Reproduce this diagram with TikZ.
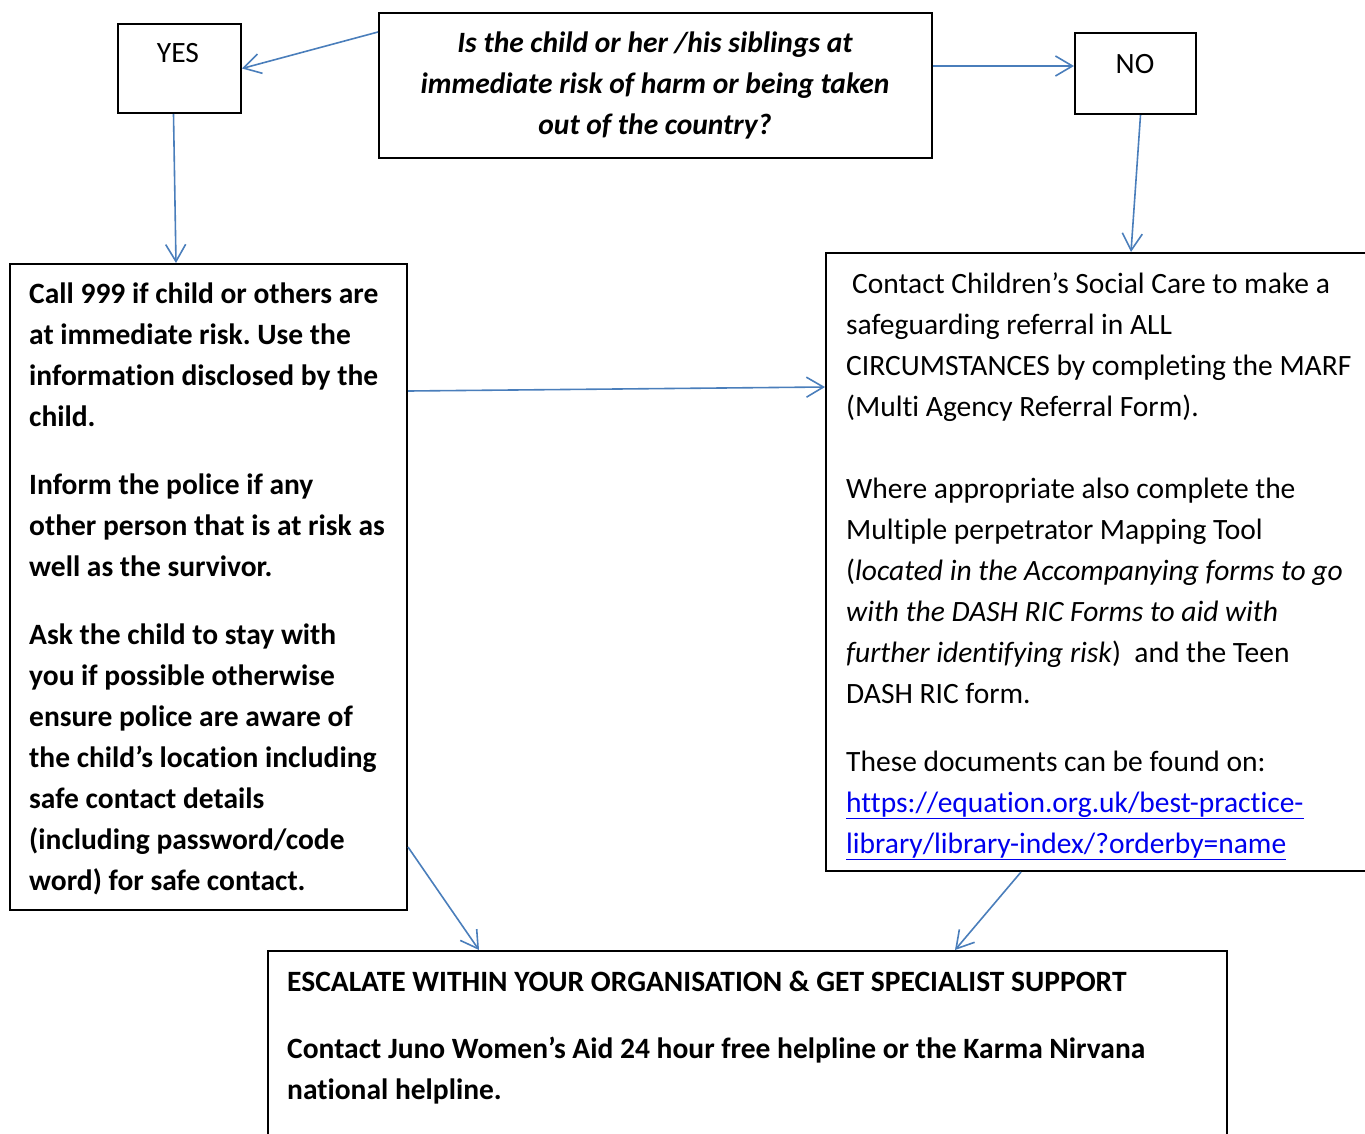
\documentclass[tikz,border=0pt]{standalone}
\usepackage{fontspec}
\setmainfont[Ligatures=NoCommon]{Carlito}
\usetikzlibrary{arrows.meta,calc}
\definecolor{arrowblue}{HTML}{4A7EBB}
\definecolor{linkblue}{HTML}{0000EE}
\frenchspacing
\begin{document}
\begin{tikzpicture}[x=1pt,y=-1pt,
  box/.style={draw=black, line width=2pt, inner sep=0pt, anchor=north west},
  txt/.style={inner sep=0pt, anchor=north west, align=left, font=\fontsize{29.5}{41}\selectfont},
  conn/.style={draw=arrowblue, line width=1.6pt, -{Straight Barb[length=17pt,width=20pt,line width=1.6pt]}}]
\useasboundingbox (0,0) rectangle (1365,1133);
\clip (0,0) rectangle (1365,1133);
% boxes
\node[box, minimum width=123pt, minimum height=89pt] (yes) at (117,23) {};
\node[box, minimum width=553pt, minimum height=145pt] (q) at (378,12) {};
\node[box, minimum width=121pt, minimum height=81pt] (no) at (1074,32) {};
\node[box, minimum width=397pt, minimum height=646pt] (left) at (9,263) {};
\node[box, minimum width=560pt, minimum height=618pt] (right) at (825,252) {};
\node[box, minimum width=959pt, minimum height=300pt] (bot) at (267,950) {};
% texts
\node[txt, anchor=base] (yest) at (178,62) {YES};
\node[txt, anchor=base] (not) at (1135,73) {NO};
\node[txt, anchor=north, align=center, font=\fontsize{29.5}{41}\selectfont\bfseries\itshape] (qt) at (655,23.3)
  {\strut Is the child or her /his siblings at\\ immediate risk of harm or being taken\\ out of the country?};
\node[txt, font=\fontsize{29.5}{41}\selectfont\bfseries] (leftt) at (29,274.3)
  {\strut Call 999 if child or others are\\ at immediate risk. Use the\\ information disclosed by the\\ child.\\[27pt]
   Inform the police if any\\ other person that is at risk as\\ well as the survivor.\\[27pt]
   Ask the child to stay with\\ you if possible otherwise\\ ensure police are aware of\\ the child’s location including\\ safe contact details\\ (including password/code\\ word) for safe contact.};
\node[txt] (rightt) at (846,264.3)
  {\strut\hspace{6pt}Contact Children’s Social Care to make a\\ safeguarding referral in ALL\\ CIRCUMSTANCES by completing the MARF\\ (Multi Agency Referral Form).\\[41pt]
   Where appropriate also complete the\\ Multiple perpetrator Mapping Tool\\ (\textit{located in the Accompanying forms to go}\\ \textit{with the DASH RIC Forms to aid with}\\ \textit{further identifying risk})\ \ and the Teen\\ DASH RIC form.\\[27pt]
   These documents can be found on:\\ \textcolor{linkblue}{\underline{https://equation.org.uk/best-practice-}}\\ \textcolor{linkblue}{\underline{library/library-index/?orderby=name}}};
\node[txt, font=\fontsize{29.5}{41}\selectfont\bfseries] (bott) at (287,962.3)
  {\strut ESCALATE WITHIN YOUR ORGANISATION \& GET SPECIALIST SUPPORT\\[26pt]
   Contact Juno Women’s Aid 24 hour free helpline or the Karma Nirvana\\ national helpline.};
% connectors
\draw[conn] ($(q.north west)+(0,20)$) -- (yes.east);
\draw[conn] ($(q.north east)+(0,54)$) -- ($(no.north west)+(0,34)$);
\draw[conn] ($(yes.south)+(-6,0)$) -- ($(left.north west)+(167,0)$);
\draw[conn] ($(no.south)+(5,0)$) -- ($(right.north west)+(306,0)$);
\draw[conn] ($(left.north east)+(0,128)$) -- ($(right.north west)+(0,135)$);
\draw[conn] ($(left.south east)+(0,-64)$) -- ($(bot.north west)+(212,0)$);
\draw[conn] ($(right.south west)+(196,0)$) -- ($(bot.north west)+(688,0)$);
\end{tikzpicture}
\end{document}
